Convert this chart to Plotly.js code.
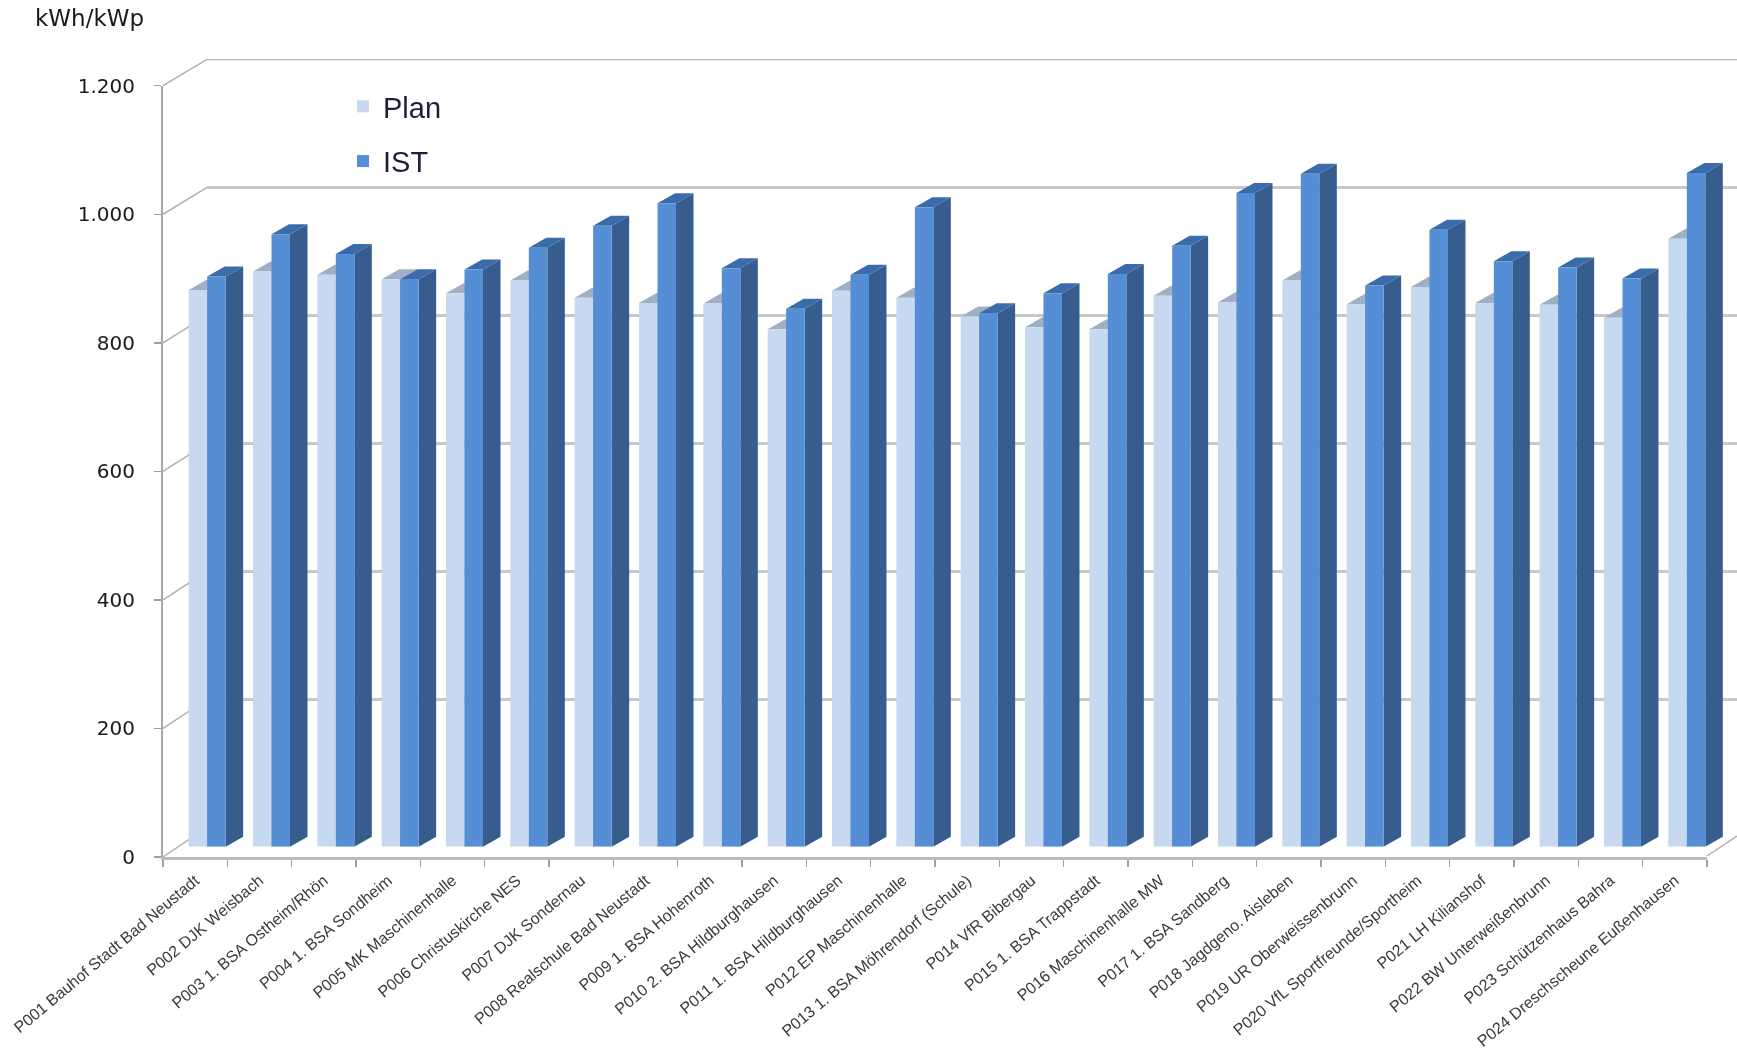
<!DOCTYPE html>
<html><head><meta charset="utf-8">
<script src="https://cdn.plot.ly/plotly-3.0.1.min.js"></script>
<style>html,body{margin:0;padding:0;background:#fff}#c{width:1737px;height:1050px;filter:blur(0.6px)}</style>
</head><body><div id="c"></div>
<script>
const categories = ["P001 Bauhof Stadt Bad Neustadt","P002 DJK Weisbach","P003 1. BSA Ostheim/Rhön","P004 1. BSA Sondheim","P005 MK Maschinenhalle","P006 Christuskirche NES","P007 DJK Sondernau","P008 Realschule Bad Neustadt","P009 1. BSA Hohenroth","P010 2. BSA Hildburghausen","P011 1. BSA Hildburghausen","P012 EP Maschinenhalle","P013 1. BSA Möhrendorf (Schule)","P014 VfR Bibergau","P015 1. BSA Trappstadt","P016 Maschinenhalle MW","P017 1. BSA Sandberg","P018 Jagdgeno. Aisleben","P019 UR Oberweissenbrunn","P020 VfL Sportfreunde/Sportheim","P021 LH Kilianshof","P022 BW Unterweißenbrunn","P023 Schützenhaus Bahra","P024 Dreschscheune Eußenhausen"];
const planValues = [866,895,890,883,861,881,854,846,845,805,865,854,825,808,805,857,847,881,844,871,846,843,823,946];
const istValues = [887,953,922,883,898,932,966,1001,900,837,890,995,830,861,891,935,1017,1047,873,960,911,901,884,1048];
const yTickValues = [0,200,400,600,800,1000,1200];
const yTickLabels = ["0","200","400","600","800","1.000","1.200"];

const W = 1737, H = 1050;
const px = v => v / W, py = v => 1 - v / H;

const bargap = 0.425, barW = (1 - bargap) / 2;
const depthX = 0.272, depthY = 15.6;

function prism(i, value, x0, x1, topColor, sideColor) {
  const top = `M${x0},${value} L${x1},${value} L${x1 + depthX},${value + depthY} L${x0 + depthX},${value + depthY} Z`;
  const side = `M${x1},0 L${x1 + depthX},${depthY} L${x1 + depthX},${value + depthY} L${x1},${value} Z`;
  const mk = (path, c) => ({type:'path', path, xref:'x2', yref:'y2', layer:'below', fillcolor:c, line:{width:0}});
  return [mk(side, sideColor), mk(top, topColor)];
}
const shapes = [];
// side wall lines running from the front axis back to the rear wall
const wallFront = v => py(857 - v * (857 - 85.7) / 1200);
const wallBack = v => py(827.3 - v * (827.3 - 59.3) / 1200);
yTickValues.forEach(v => shapes.push({type:'line', xref:'paper', yref:'paper', x0:px(163), x1:px(207), y0:wallFront(v), y1:wallBack(v), layer:'below', line:{color:'#b0b0b0', width:1.5}}));
shapes.push({type:'line', xref:'paper', yref:'paper', x0:px(1707), x1:px(1737), y0:py(856), y1:py(836), layer:'below', line:{color:'#b0b0b0', width:1.5}});
shapes.push({type:'line', xref:'x', yref:'y', x0:0, x1:1, y0:1200, y1:1200, layer:'below', line:{color:'#a8a8a8', width:2}});
planValues.forEach((v,i) => shapes.push(...prism(i, v, i-barW, i, '#9fb0c4', '#8c9db3')));
istValues.forEach((v,i) => shapes.push(...prism(i, v, i, i+barW, '#3a6cab', '#365d8d')));

const font = 'Liberation Sans, Arial, sans-serif';
const wide = 'DejaVu Sans, Verdana, sans-serif';
const traces = [
  {type:'bar', name:'Plan', x:categories, y:planValues, xaxis:'x2', yaxis:'y2', legendgroup:'a', marker:{color:'#c6d9f1', line:{width:0}}, hoverinfo:'x+y+name'},
  {type:'bar', name:'IST', x:categories, y:istValues, xaxis:'x2', yaxis:'y2', legendgroup:'b', marker:{color:'#558ed5', line:{width:0}}, hoverinfo:'x+y+name'},
  {type:'scatter', mode:'none', x:categories, y:planValues, xaxis:'x3', yaxis:'y3', showlegend:false, hoverinfo:'skip'},
  {type:'scatter', mode:'none', x:[0,1], y:[0,1200], xaxis:'x', yaxis:'y', showlegend:false, hoverinfo:'skip'}
];

const layout = {
  width:W, height:H, autosize:false,
  margin:{l:0,r:0,t:0,b:0,pad:0},
  paper_bgcolor:'#fff', plot_bgcolor:'rgba(0,0,0,0)',
  barmode:'group', bargap:bargap, bargroupgap:0,
  font:{family:font, color:'#222'},
  // rear wall gridlines
  xaxis:{domain:[px(207),1], range:[0,1], visible:false, anchor:'y', fixedrange:true},
  yaxis:{domain:[py(827.3),py(59.3)], range:[0,1200], anchor:'x', tickvals:yTickValues, showticklabels:false, ticks:'', showline:false, zeroline:false, showgrid:true, gridcolor:'#c8c8c8', gridwidth:3, fixedrange:true},
  // bars
  xaxis2:{domain:[px(175),1], type:'category', categoryorder:'array', categoryarray:categories, range:[-0.5,23.78], anchor:'y2', visible:false, fixedrange:true},
  yaxis2:{domain:[py(846.7),py(85.7)], range:[0,1184], anchor:'x2', visible:false, fixedrange:true},
  // front axes
  xaxis3:{domain:[px(163),px(1707)], type:'category', categoryorder:'array', categoryarray:categories, range:[-0.5,23.5], anchor:'y3', tickson:'boundaries', ticks:'outside', ticklen:7, tickwidth:1.5, tickcolor:'#a0a0a0', showline:true, linecolor:'#bcbcbc', linewidth:3, showgrid:false, zeroline:false, tickangle:-40, ticklabelstandoff:5, tickfont:{family:font, size:16, color:'#3a3a3a'}, fixedrange:true},
  yaxis3:{domain:[py(857),py(85.7)], range:[0,1200], anchor:'x3', tickvals:yTickValues, ticktext:yTickLabels, ticks:'outside', ticklen:7, tickwidth:1.5, tickcolor:'#a0a0a0', showline:true, linecolor:'#a8a8a8', linewidth:2, showgrid:false, zeroline:false, ticklabelstandoff:15, tickfont:{family:wide, size:20, color:'#1a1a1a'}, fixedrange:true},
  legend:{x:px(343), y:py(81), xanchor:'left', yanchor:'top', traceorder:'grouped', tracegroupgap:14, bgcolor:'rgba(0,0,0,0)', font:{family:font, size:29, color:'#1f1f3a'}, borderwidth:0},
  annotations:[{text:'kWh/kWp', xref:'paper', yref:'paper', x:px(33), y:py(18), xanchor:'left', yanchor:'middle', showarrow:false, font:{family:wide, size:23, color:'#1a1a1a'}}],
  shapes
};
Plotly.newPlot('c', traces, layout, {displayModeBar:false, staticPlot:true});
</script></body></html>
